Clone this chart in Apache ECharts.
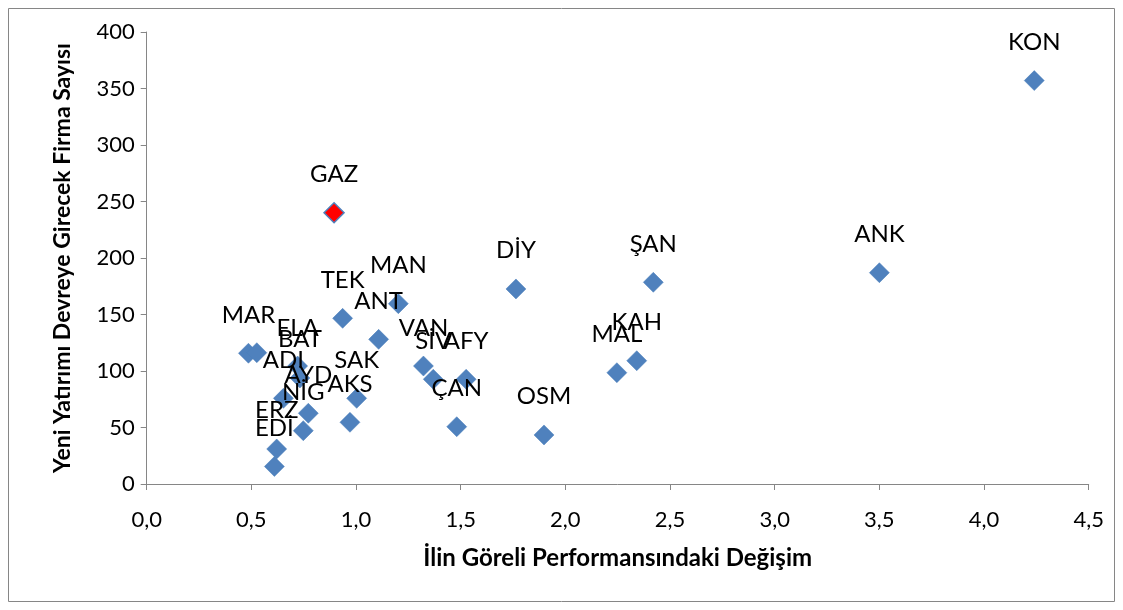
<!DOCTYPE html>
<html>
<head>
<meta charset="utf-8">
<script src="https://cdn.jsdelivr.net/npm/echarts@6/dist/echarts.min.js"></script>
<style>
  html, body { margin: 0; padding: 0; background: #fff; }
  #chart { width: 1123px; height: 610px; }
</style>
</head>
<body>
<div id="chart"></div>
<script>
// il kodlari ve degerler
var provinces = ['KON', 'GAZ', 'ANK', 'ŞAN', 'DİY', 'MAN', 'TEK', 'ANT', 'MAR', '', 'ELA', 'BAT', 'ADI', 'AYD', 'NİG',
  'ERZ', 'EDİ', 'SAK', 'AKS', 'VAN', 'SİV', 'AFY', 'ÇAN', 'OSM', 'KAH', 'MAL']
var perfChange = [4.24, 0.895, 3.50, 2.42, 1.764, 1.202, 0.936, 1.108, 0.486, 0.526, 0.721, 0.732, 0.653, 0.772, 0.748,
  0.621, 0.61, 1.003, 0.971, 1.322, 1.369, 1.526, 1.481, 1.898, 2.341, 2.246]
var firmCount = [357, 240, 187, 178.5, 172.6, 159.6, 146.6, 128, 115.7, 116.2, 104.4, 93.8, 75.8, 62.6, 47.2,
  31, 15.5, 75.8, 54.6, 104.4, 92.7, 92.7, 50.7, 43.4, 109.1, 98.5]
var highlighted = 'GAZ'

var font = 'Lato, "Open Sans", sans-serif'
var chart = echarts.init(document.getElementById('chart'))

var seriesData = provinces.map(function (name, i) {
  var item = { name: name, value: [perfChange[i], firmCount[i]] }
  if (name === highlighted) {
    item.itemStyle = { color: '#ff0000', borderColor: '#4f81bd', borderWidth: 1.5 }
  }
  return item
})

var option = {
  animation: false,
  backgroundColor: '#fff',
  graphic: [{
    type: 'rect',
    shape: { x: 8.5, y: 8.5, width: 1106, height: 593 },
    style: { fill: 'none', stroke: '#868686', lineWidth: 1 },
    silent: true
  }],
  grid: { left: 146.7, right: 34.3, top: 32, bottom: 126 },
  xAxis: {
    type: 'value',
    min: 0,
    max: 4.5,
    interval: 0.5,
    name: 'İlin Göreli Performansındaki Değişim',
    nameLocation: 'middle',
    nameGap: 62,
    nameTextStyle: { fontFamily: font, fontSize: 24, fontWeight: 'bold', color: '#000' },
    axisLine: { lineStyle: { color: '#868686', width: 1 } },
    axisTick: { show: true, length: 6, lineStyle: { color: '#868686' } },
    axisLabel: {
      fontFamily: font, fontSize: 22, color: '#000', margin: 25,
      formatter: function (v) { return v.toFixed(1).replace('.', ',') }
    },
    splitLine: { show: false }
  },
  yAxis: {
    type: 'value',
    min: 0,
    max: 400,
    interval: 50,
    name: 'Yeni Yatırımı Devreye Girecek Firma Sayısı',
    nameLocation: 'middle',
    nameGap: 73,
    nameTextStyle: { fontFamily: font, fontSize: 23, fontWeight: 'bold', color: '#000' },
    axisLine: { show: true, lineStyle: { color: '#868686', width: 1 } },
    axisTick: { show: true, length: 6, lineStyle: { color: '#868686' } },
    axisLabel: { fontFamily: font, fontSize: 22, color: '#000', margin: 12 },
    splitLine: { show: false }
  },
  series: [{
    type: 'scatter',
    symbol: 'diamond',
    symbolSize: 20,
    itemStyle: { color: '#4f81bd', borderColor: '#4a7ebb', borderWidth: 0.5, opacity: 1 },
    label: {
      show: true,
      position: 'top',
      distance: 16,
      formatter: '{b}',
      fontFamily: font,
      fontSize: 24,
      color: '#000'
    },
    labelLayout: { hideOverlap: false },
    data: seriesData
  }]
}

chart.setOption(option)
</script>
</body>
</html>
